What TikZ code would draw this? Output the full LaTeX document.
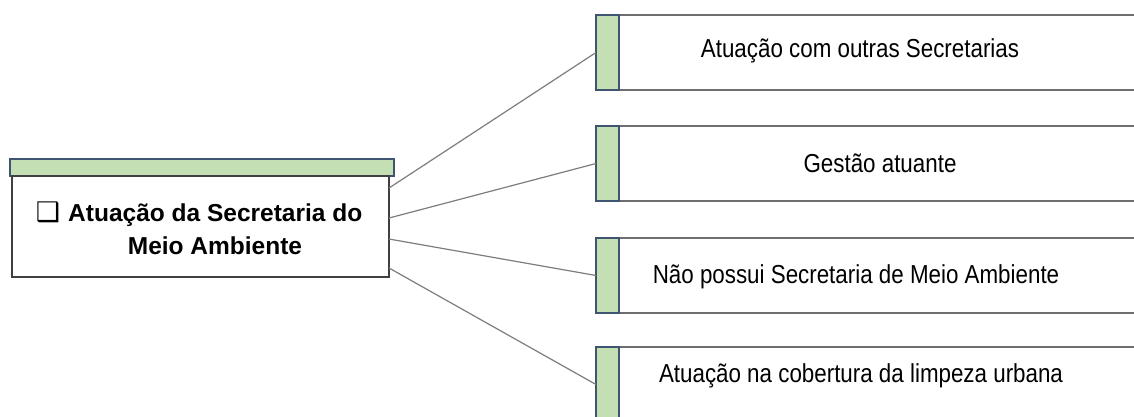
\documentclass[tikz,border=0pt]{standalone}
\usepackage{fontspec}
\setmainfont{Liberation Sans}
\newfontfamily\narrowfont[FakeStretch=0.86]{Liberation Sans}
\newfontfamily\symfont{DejaVu Sans}
\usetikzlibrary{calc}
\definecolor{barfill}{RGB}{196,223,180}
\definecolor{barline}{RGB}{62,84,112}
\definecolor{boxline}{RGB}{64,64,64}
\definecolor{itemline}{RGB}{110,110,110}
\definecolor{conn}{RGB}{125,125,125}
\begin{document}
\begin{tikzpicture}[x=1pt,y=-1pt,
  greenbar/.style={draw=barline,fill=barfill,line width=1.5pt,inner sep=0pt,outer sep=0pt,anchor=north west},
  leftbox/.style={draw=boxline,fill=white,line width=2pt,inner sep=0pt,outer sep=0pt,anchor=north west},
  itembox/.style={draw=itemline,fill=white,line width=2pt,inner sep=0pt,outer sep=0pt,anchor=north west,minimum width=540pt,minimum height=75pt},
  strip/.style={draw=barline,fill=barfill,line width=1.5pt,inner sep=0pt,outer sep=0pt,anchor=north west,minimum width=23pt,minimum height=75pt},
  titletext/.style={font=\bfseries\fontsize{24.5}{33}\selectfont,inner sep=0pt,anchor=base},
  itemtext/.style={font=\narrowfont\fontsize{26}{30}\selectfont,inner sep=0pt,anchor=base},
  connector/.style={draw=conn,line width=1.2pt}]
\useasboundingbox (0,0) rectangle (1134,417);
\clip (0,0) rectangle (1134,417);
\fill[white] (0,0) rectangle (1134,417);

% left box
\node[greenbar,minimum width=384pt,minimum height=17pt] (lbar) at (10,159) {};
\node[leftbox,minimum width=377pt,minimum height=101pt] (lb) at (12,176) {};
\node[titletext,anchor=base west] (lt1) at (68,221) {\llap{{\symfont\fontsize{27}{27}\selectfont ❑}\hspace{8pt}}Atuação da Secretaria do};
\node[titletext] (lt2) at (215,254) {Meio Ambiente};

% right boxes
\node[itembox] (b1) at (619,15) {};
\node[strip] (g1) at (596,15) {};
\node[itemtext] (t1) at (860,58) {Atuação com outras Secretarias};

\node[itembox] (b2) at (619,126) {};
\node[strip] (g2) at (596,126) {};
\node[itemtext] (t2) at (880,172) {Gestão atuante};

\node[itembox] (b3) at (619,238) {};
\node[strip] (g3) at (596,238) {};
\node[itemtext] (t3) at (856,283) {Não possui Secretaria de Meio Ambiente};

\node[itembox] (b4) at (619,347) {};
\node[strip] (g4) at (596,347) {};
\node[itemtext] (t4) at (861,382) {Atuação na cobertura da limpeza urbana};

% connectors
\draw[connector] ($(lb.north east)!0.119!(lb.south east)$) -- (g1.west);
\draw[connector] ($(lb.north east)!0.416!(lb.south east)$) -- (g2.west);
\draw[connector] ($(lb.north east)!0.624!(lb.south east)$) -- (g3.west);
\draw[connector] ($(lb.north east)!0.911!(lb.south east)$) -- (g4.west);
\end{tikzpicture}
\end{document}
